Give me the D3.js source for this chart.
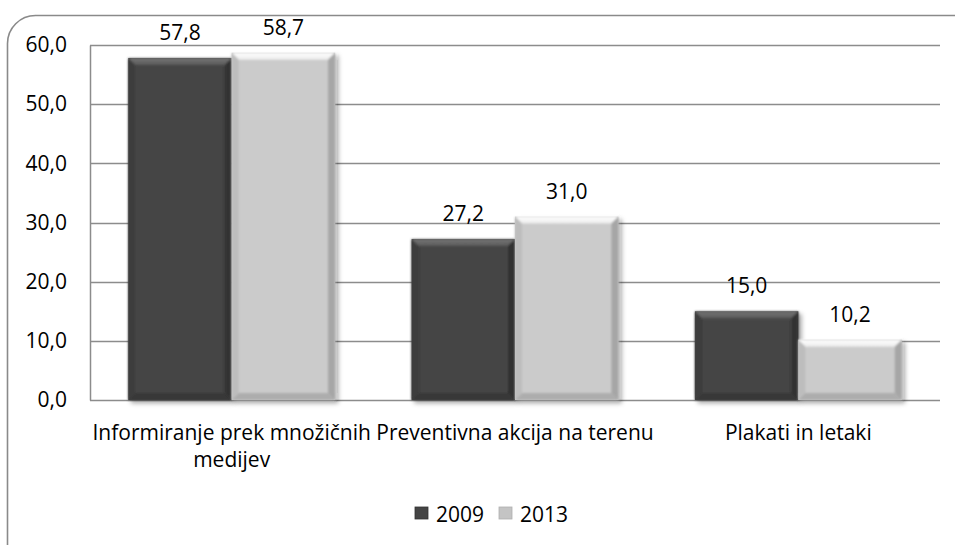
<!DOCTYPE html>
<html>
<head>
<meta charset="utf-8">
<script src="https://cdn.jsdelivr.net/npm/d3@7"></script>
<style>
  html, body { margin: 0; padding: 0; background: #fff; }
  svg { display: block; }
  text { font-family: "Open Sans", "Liberation Sans", sans-serif; fill: #000; }
</style>
</head>
<body>
<svg id="chart" width="955" height="545"></svg>
<script>
// Data
const categories = ["Informiranje prek množičnih medijev", "Preventivna akcija na terenu", "Plakati in letaki"];
const seriesNames = ["2009", "2013"];
const values2009 = [57.8, 27.2, 15.0];
const values2013 = [58.7, 31.0, 10.2];
const yTicks = [0, 10, 20, 30, 40, 50, 60];

const fmt = v => v.toFixed(1).replace(".", ",");

const svg = d3.select("#chart");
const plot = { left: 90, right: 940, top: 45, bottom: 400 };
const fontSize = 21;

// Palette per series: base face, top, left, right, bottom bevel shades
const palettes = [
  { base: "#454545", top: "#5c5c5c", topHi: "#747474", left: "#3c3c3c", right: "#333333", bottom: "#373737", legend: "#444" },
  { base: "#cbcbcb", top: "#ececec", topHi: "#ffffff", left: "#bdbdbd", right: "#a6a6a6", bottom: "#adadad", legend: "#c4c4c4" }
];

const defs = svg.append("defs");
const shadow = defs.append("filter").attr("id", "barShadow")
  .attr("x", "-10%").attr("y", "-10%").attr("width", "130%").attr("height", "130%");
shadow.append("feDropShadow").attr("dx", 3).attr("dy", 3).attr("stdDeviation", 2.2)
  .attr("flood-color", "#000").attr("flood-opacity", 0.32);
const soft = defs.append("filter").attr("id", "soft");
soft.append("feGaussianBlur").attr("stdDeviation", 0.9);

palettes.forEach((p, i) => {
  const g = defs.append("linearGradient").attr("id", "topGrad" + i)
    .attr("x1", 0).attr("y1", 0).attr("x2", 0).attr("y2", 1);
  g.append("stop").attr("offset", "0%").attr("stop-color", p.topHi);
  g.append("stop").attr("offset", "100%").attr("stop-color", p.top);
});

// Outer rounded frame
svg.append("rect")
  .attr("x", 7.5).attr("y", 15.5).attr("width", 1000).attr("height", 560)
  .attr("rx", 28).attr("ry", 28)
  .attr("fill", "none").attr("stroke", "#8a8a8a").attr("stroke-width", 1.6);

// Scales
const y = d3.scaleLinear().domain([0, 60]).range([plot.bottom, plot.top]);
const x0 = d3.scaleBand().domain(categories).range([plot.left, plot.right])
  .paddingInner(0.27).paddingOuter(0.135);
const x1 = d3.scaleBand().domain(seriesNames).range([0, x0.bandwidth()]).padding(0);

// Gridlines
svg.append("g").selectAll("line").data(yTicks).join("line")
  .attr("x1", plot.left).attr("x2", plot.right)
  .attr("y1", d => Math.round(y(d)) + 0.5).attr("y2", d => Math.round(y(d)) + 0.5)
  .attr("stroke", "#8c8c8c").attr("stroke-width", 1.5);

// Y axis
const yAxis = d3.axisLeft(y).tickValues(yTicks).tickFormat(fmt).tickSize(0).tickPadding(23);
const yg = svg.append("g").attr("transform", `translate(${plot.left},0)`).call(yAxis);
yg.select(".domain").attr("stroke", "#8c8c8c").attr("stroke-width", 1.5);
yg.selectAll("text").attr("font-size", fontSize).attr("font-family", null).attr("fill", "#000");

// Bars
const rows = categories.map((c, i) => ({ cat: c, vals: [values2009[i], values2013[i]] }));
const bevel = 7;
function poly(pts) { return "M" + pts.map(p => p.join(",")).join("L") + "Z"; }

rows.forEach(r => {
  r.vals.forEach((v, si) => {
    const p = palettes[si];
    const bx = x0(r.cat) + x1(seriesNames[si]);
    const bw = x1.bandwidth();
    const by = y(v), bb = y(0);
    const b = Math.min(bevel, (bb - by) / 2);
    const g = svg.append("g").attr("filter", "url(#barShadow)");
    g.append("rect").attr("x", bx).attr("y", by).attr("width", bw).attr("height", bb - by).attr("fill", p.base);
    const e = g.append("g").attr("filter", "url(#soft)");
    e.append("path").attr("d", poly([[bx, by], [bx + bw, by], [bx + bw - b, by + b], [bx + b, by + b]])).attr("fill", `url(#topGrad${si})`);
    e.append("path").attr("d", poly([[bx, bb], [bx + bw, bb], [bx + bw - b, bb - b], [bx + b, bb - b]])).attr("fill", p.bottom);
    e.append("path").attr("d", poly([[bx, by], [bx + b, by + b], [bx + b, bb - b], [bx, bb]])).attr("fill", p.left);
    e.append("path").attr("d", poly([[bx + bw, by], [bx + bw - b, by + b], [bx + bw - b, bb - b], [bx + bw, bb]])).attr("fill", p.right);
    // value label
    svg.append("text")
      .attr("x", bx + bw / 2).attr("y", by - 18)
      .attr("text-anchor", "middle").attr("font-size", fontSize)
      .text(fmt(v));
  });
});

// Category labels (wrapped to the band step)
function wrapLines(text, maxW, size) {
  const words = text.split(" ");
  const tmp = svg.append("text").attr("font-size", size);
  const lines = [];
  let cur = [];
  words.forEach(w => {
    const trial = cur.concat([w]).join(" ");
    tmp.text(trial);
    if (tmp.node().getComputedTextLength() > maxW && cur.length) {
      lines.push(cur.join(" "));
      cur = [w];
    } else cur.push(w);
  });
  if (cur.length) lines.push(cur.join(" "));
  tmp.remove();
  return lines;
}
categories.forEach(c => {
  const cx = x0(c) + x0.bandwidth() / 2;
  const lines = wrapLines(c, x0.step(), fontSize);
  const t = svg.append("text").attr("text-anchor", "middle").attr("font-size", fontSize);
  lines.forEach((l, i) => {
    t.append("tspan").attr("x", cx).attr("y", 440 + i * 27).text(l);
  });
});

// Legend
const legend = svg.append("g");
const legendItems = [{ name: "2009", x: 415 }, { name: "2013", x: 499 }];
legendItems.forEach((it, i) => {
  const p = palettes[i];
  legend.append("rect").attr("x", it.x).attr("y", 507).attr("width", 13).attr("height", 12)
    .attr("fill", p.legend).attr("stroke", i ? "#b0b0b0" : "#333").attr("stroke-width", 0.8);
  legend.append("text").attr("x", it.x + 21).attr("y", 522).attr("font-size", fontSize).text(it.name);
});
</script>
</body>
</html>
